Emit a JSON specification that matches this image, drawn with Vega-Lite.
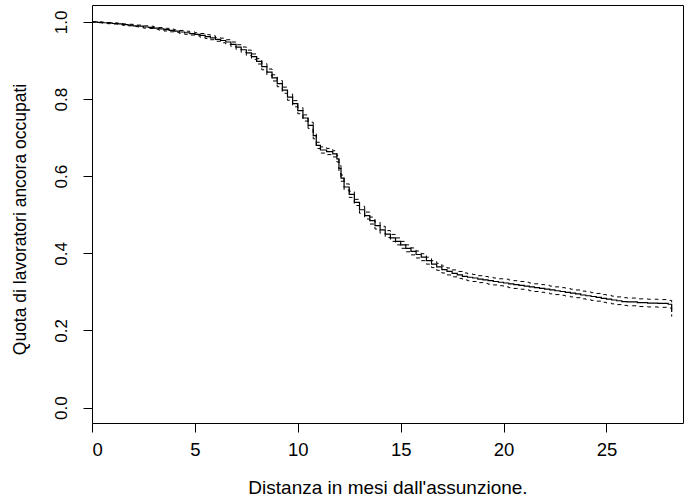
{
  "$schema": "https://vega.github.io/schema/vega-lite/v6.json",
  "width": 591,
  "height": 418,
  "autosize": "none",
  "padding": {"left": 92, "top": 5, "right": 8, "bottom": 75},
  "background": "white",
  "config": {
    "font": "Liberation Sans",
    "view": {"stroke": "black", "strokeWidth": 1},
    "axis": {"grid": false, "domain": false, "tickColor": "black", "tickSize": 9, "tickWidth": 1,
             "labelColor": "black", "titleColor": "black",
             "titleFontWeight": "normal", "labelFont": "Liberation Sans", "titleFont": "Liberation Sans"}
  },
  "data": {"values": [
    {"t": 0, "s": 1.0, "lo": 1.0, "hi": 1.0},
    {"t": 0.25, "s": 0.999, "lo": 0.998, "hi": 1.0},
    {"t": 0.5, "s": 0.998, "lo": 0.9965, "hi": 0.9995},
    {"t": 0.75, "s": 0.997, "lo": 0.9955, "hi": 0.9985},
    {"t": 1, "s": 0.996, "lo": 0.9945, "hi": 0.9975},
    {"t": 1.25, "s": 0.995, "lo": 0.993, "hi": 0.997},
    {"t": 1.5, "s": 0.993, "lo": 0.991, "hi": 0.995},
    {"t": 1.75, "s": 0.992, "lo": 0.990, "hi": 0.994},
    {"t": 2, "s": 0.990, "lo": 0.988, "hi": 0.992},
    {"t": 2.25, "s": 0.989, "lo": 0.986, "hi": 0.992},
    {"t": 2.5, "s": 0.987, "lo": 0.984, "hi": 0.990},
    {"t": 2.75, "s": 0.986, "lo": 0.983, "hi": 0.989},
    {"t": 3, "s": 0.984, "lo": 0.981, "hi": 0.987},
    {"t": 3.25, "s": 0.982, "lo": 0.9785, "hi": 0.9855},
    {"t": 3.5, "s": 0.980, "lo": 0.9765, "hi": 0.9835},
    {"t": 3.75, "s": 0.978, "lo": 0.9745, "hi": 0.9815},
    {"t": 4, "s": 0.976, "lo": 0.9725, "hi": 0.9795},
    {"t": 4.25, "s": 0.974, "lo": 0.970, "hi": 0.978},
    {"t": 4.5, "s": 0.972, "lo": 0.968, "hi": 0.976},
    {"t": 4.75, "s": 0.970, "lo": 0.966, "hi": 0.974},
    {"t": 5, "s": 0.968, "lo": 0.964, "hi": 0.972},
    {"t": 5.25, "s": 0.965, "lo": 0.960, "hi": 0.970},
    {"t": 5.5, "s": 0.962, "lo": 0.957, "hi": 0.967},
    {"t": 5.75, "s": 0.959, "lo": 0.954, "hi": 0.964},
    {"t": 6, "s": 0.955, "lo": 0.950, "hi": 0.960},
    {"t": 6.25, "s": 0.952, "lo": 0.946, "hi": 0.958},
    {"t": 6.5, "s": 0.948, "lo": 0.942, "hi": 0.954},
    {"t": 6.75, "s": 0.942, "lo": 0.936, "hi": 0.948},
    {"t": 7, "s": 0.935, "lo": 0.929, "hi": 0.941},
    {"t": 7.25, "s": 0.928, "lo": 0.921, "hi": 0.935},
    {"t": 7.5, "s": 0.920, "lo": 0.913, "hi": 0.927},
    {"t": 7.75, "s": 0.910, "lo": 0.903, "hi": 0.917},
    {"t": 8, "s": 0.898, "lo": 0.891, "hi": 0.905},
    {"t": 8.25, "s": 0.884, "lo": 0.876, "hi": 0.892},
    {"t": 8.5, "s": 0.870, "lo": 0.862, "hi": 0.878},
    {"t": 8.75, "s": 0.855, "lo": 0.847, "hi": 0.863},
    {"t": 9, "s": 0.840, "lo": 0.832, "hi": 0.848},
    {"t": 9.25, "s": 0.823, "lo": 0.815, "hi": 0.831},
    {"t": 9.5, "s": 0.805, "lo": 0.797, "hi": 0.813},
    {"t": 9.75, "s": 0.788, "lo": 0.780, "hi": 0.796},
    {"t": 10, "s": 0.770, "lo": 0.762, "hi": 0.778},
    {"t": 10.25, "s": 0.751, "lo": 0.743, "hi": 0.759},
    {"t": 10.5, "s": 0.732, "lo": 0.724, "hi": 0.740},
    {"t": 10.75, "s": 0.705, "lo": 0.697, "hi": 0.713},
    {"t": 10.9, "s": 0.680, "lo": 0.672, "hi": 0.688},
    {"t": 11.1, "s": 0.668, "lo": 0.660, "hi": 0.676},
    {"t": 11.4, "s": 0.664, "lo": 0.656, "hi": 0.672},
    {"t": 11.7, "s": 0.658, "lo": 0.650, "hi": 0.666},
    {"t": 11.9, "s": 0.645, "lo": 0.637, "hi": 0.653},
    {"t": 12, "s": 0.620, "lo": 0.612, "hi": 0.628},
    {"t": 12.1, "s": 0.595, "lo": 0.587, "hi": 0.603},
    {"t": 12.25, "s": 0.572, "lo": 0.564, "hi": 0.580},
    {"t": 12.5, "s": 0.553, "lo": 0.545, "hi": 0.561},
    {"t": 12.75, "s": 0.532, "lo": 0.524, "hi": 0.540},
    {"t": 13, "s": 0.513, "lo": 0.504, "hi": 0.522},
    {"t": 13.25, "s": 0.498, "lo": 0.489, "hi": 0.507},
    {"t": 13.5, "s": 0.485, "lo": 0.476, "hi": 0.494},
    {"t": 13.75, "s": 0.472, "lo": 0.463, "hi": 0.481},
    {"t": 14, "s": 0.461, "lo": 0.452, "hi": 0.470},
    {"t": 14.25, "s": 0.450, "lo": 0.441, "hi": 0.459},
    {"t": 14.5, "s": 0.440, "lo": 0.431, "hi": 0.449},
    {"t": 14.75, "s": 0.431, "lo": 0.422, "hi": 0.440},
    {"t": 15, "s": 0.422, "lo": 0.413, "hi": 0.431},
    {"t": 15.25, "s": 0.413, "lo": 0.404, "hi": 0.422},
    {"t": 15.5, "s": 0.405, "lo": 0.396, "hi": 0.414},
    {"t": 15.75, "s": 0.397, "lo": 0.388, "hi": 0.406},
    {"t": 16, "s": 0.390, "lo": 0.381, "hi": 0.399},
    {"t": 16.25, "s": 0.381, "lo": 0.372, "hi": 0.390},
    {"t": 16.5, "s": 0.372, "lo": 0.363, "hi": 0.381},
    {"t": 16.75, "s": 0.365, "lo": 0.356, "hi": 0.374},
    {"t": 17, "s": 0.358, "lo": 0.349, "hi": 0.367},
    {"t": 17.25, "s": 0.353, "lo": 0.344, "hi": 0.362},
    {"t": 17.5, "s": 0.348, "lo": 0.339, "hi": 0.357},
    {"t": 17.75, "s": 0.344, "lo": 0.335, "hi": 0.353},
    {"t": 18, "s": 0.340, "lo": 0.331, "hi": 0.349},
    {"t": 18.25, "s": 0.338, "lo": 0.329, "hi": 0.347},
    {"t": 18.5, "s": 0.336, "lo": 0.327, "hi": 0.345},
    {"t": 18.75, "s": 0.333, "lo": 0.324, "hi": 0.342},
    {"t": 19, "s": 0.331, "lo": 0.322, "hi": 0.340},
    {"t": 19.25, "s": 0.329, "lo": 0.320, "hi": 0.338},
    {"t": 19.5, "s": 0.327, "lo": 0.318, "hi": 0.336},
    {"t": 19.75, "s": 0.325, "lo": 0.316, "hi": 0.334},
    {"t": 20, "s": 0.323, "lo": 0.313, "hi": 0.333},
    {"t": 20.25, "s": 0.321, "lo": 0.311, "hi": 0.331},
    {"t": 20.5, "s": 0.319, "lo": 0.309, "hi": 0.329},
    {"t": 20.75, "s": 0.317, "lo": 0.307, "hi": 0.327},
    {"t": 21, "s": 0.315, "lo": 0.305, "hi": 0.325},
    {"t": 21.25, "s": 0.313, "lo": 0.303, "hi": 0.323},
    {"t": 21.5, "s": 0.311, "lo": 0.301, "hi": 0.321},
    {"t": 21.75, "s": 0.309, "lo": 0.299, "hi": 0.319},
    {"t": 22, "s": 0.307, "lo": 0.297, "hi": 0.317},
    {"t": 22.25, "s": 0.305, "lo": 0.295, "hi": 0.315},
    {"t": 22.5, "s": 0.303, "lo": 0.293, "hi": 0.313},
    {"t": 22.75, "s": 0.301, "lo": 0.291, "hi": 0.311},
    {"t": 23, "s": 0.299, "lo": 0.289, "hi": 0.309},
    {"t": 23.25, "s": 0.297, "lo": 0.287, "hi": 0.307},
    {"t": 23.5, "s": 0.295, "lo": 0.285, "hi": 0.305},
    {"t": 23.75, "s": 0.292, "lo": 0.282, "hi": 0.302},
    {"t": 24, "s": 0.290, "lo": 0.280, "hi": 0.300},
    {"t": 24.25, "s": 0.288, "lo": 0.278, "hi": 0.298},
    {"t": 24.5, "s": 0.286, "lo": 0.276, "hi": 0.296},
    {"t": 24.75, "s": 0.283, "lo": 0.273, "hi": 0.293},
    {"t": 25, "s": 0.281, "lo": 0.271, "hi": 0.291},
    {"t": 25.25, "s": 0.279, "lo": 0.269, "hi": 0.289},
    {"t": 25.5, "s": 0.277, "lo": 0.267, "hi": 0.287},
    {"t": 25.75, "s": 0.275, "lo": 0.265, "hi": 0.285},
    {"t": 26, "s": 0.274, "lo": 0.264, "hi": 0.284},
    {"t": 26.5, "s": 0.272, "lo": 0.262, "hi": 0.282},
    {"t": 27, "s": 0.271, "lo": 0.261, "hi": 0.281},
    {"t": 27.5, "s": 0.270, "lo": 0.260, "hi": 0.280},
    {"t": 28, "s": 0.268, "lo": 0.258, "hi": 0.278},
    {"t": 28.17, "s": 0.248, "lo": 0.236, "hi": 0.260}
  ]},
  "encoding": {
    "x": {"field": "t", "type": "quantitative",
          "scale": {"domain": [0, 28.72], "nice": false, "zero": false},
          "axis": {"values": [0, 5, 10, 15, 20, 25], "labelPadding": 8, "labelFontSize": 18.5,
                   "title": "Distanza in mesi dall'assunzione.", "titleFontSize": 19,
                   "titleY": 70, "titleBaseline": "alphabetic"}}
  },
  "layer": [
    {"mark": {"type": "line", "interpolate": "step-after", "color": "black", "strokeWidth": 1, "strokeDash": [4, 4]},
     "encoding": {"y": {"field": "lo", "type": "quantitative",
          "scale": {"domain": [-0.04, 1.044], "nice": false, "zero": false},
          "axis": {"values": [0, 0.2, 0.4, 0.6, 0.8, 1.0], "format": ".1f", "labelFontSize": 17,
                   "labelAngle": 270, "labelAlign": "center", "labelBaseline": "bottom", "labelPadding": 13,
                   "title": "Quota di lavoratori ancora occupati", "titleFontSize": 17.5,
                   "titleX": -72, "titleY": 214, "titleAngle": 270, "titleAlign": "center", "titleBaseline": "middle"}}}},
    {"mark": {"type": "line", "interpolate": "step-after", "color": "black", "strokeWidth": 1, "strokeDash": [4, 4]},
     "encoding": {"y": {"field": "hi", "type": "quantitative"}}},
    {"mark": {"type": "line", "interpolate": "step-after", "color": "black", "strokeWidth": 1.2},
     "encoding": {"y": {"field": "s", "type": "quantitative"}}}
  ]
}
